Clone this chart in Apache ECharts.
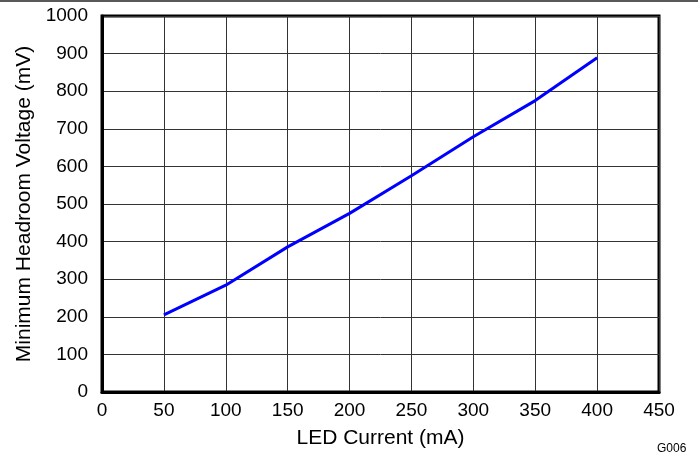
<!DOCTYPE html>
<html>
<head>
<meta charset="utf-8">
<script src="https://cdn.jsdelivr.net/npm/echarts@6/dist/echarts.min.js"></script>
<style>html,body{margin:0;padding:0;background:#fff;}#c{width:698px;height:464px;}</style>
</head>
<body>
<div id="c"></div>
<script>
var currents = [50, 100, 150, 200, 250, 300, 350, 400];
var headroom = [205, 284, 386, 475, 575, 679, 775, 889];
var xTicks = [0, 50, 100, 150, 200, 250, 300, 350, 400, 450];
var yTicks = [0, 100, 200, 300, 400, 500, 600, 700, 800, 900, 1000];

var chart = echarts.init(document.getElementById('c'), null, {renderer: 'canvas'});
var font = 'Liberation Sans, Arial, sans-serif';
chart.setOption({
  animation: false,
  backgroundColor: '#fff',
  grid: {left: 102, right: 39, top: 16, bottom: 72, show: true, borderColor: '#000', borderWidth: 3, backgroundColor: 'transparent'},
  xAxis: {
    type: 'value', min: xTicks[0], max: xTicks[xTicks.length - 1], interval: 50,
    name: 'LED Current (mA)', nameLocation: 'middle', nameGap: 36,
    nameTextStyle: {fontFamily: font, fontSize: 21, color: '#000'},
    axisLine: {show: true, lineStyle: {color: '#000', width: 3}},
    axisTick: {show: false},
    axisLabel: {fontFamily: font, fontSize: 19, color: '#000', margin: 9, formatter: function (v) { return String(v); }},
    splitLine: {show: true, lineStyle: {color: '#333', width: 1}}
  },
  yAxis: {
    type: 'value', min: yTicks[0], max: yTicks[yTicks.length - 1], interval: 100,
    name: 'Minimum Headroom Voltage (mV)', nameLocation: 'middle', nameGap: 67,
    nameTextStyle: {fontFamily: font, fontSize: 21, color: '#000'},
    axisLine: {show: true, lineStyle: {color: '#000', width: 3}},
    axisTick: {show: false},
    axisLabel: {fontFamily: font, fontSize: 19, color: '#000', margin: 14, formatter: function (v) { return String(v); }},
    splitLine: {show: true, lineStyle: {color: '#333', width: 1}}
  },
  graphic: [
    {type: 'line', shape: {x1: 0, y1: 1, x2: 698, y2: 1}, style: {stroke: '#222', lineWidth: 1.5}},
    {type: 'text', left: 657, top: 443, style: {text: 'G006', font: '12px Liberation Sans, Arial, sans-serif', fill: '#000'}}
  ],
  series: [{
    type: 'line',
    data: currents.map(function (c, i) { return [c, headroom[i]]; }),
    showSymbol: false,
    lineStyle: {color: '#0000FF', width: 3},
    z: 5
  }]
});
</script>
</body>
</html>
